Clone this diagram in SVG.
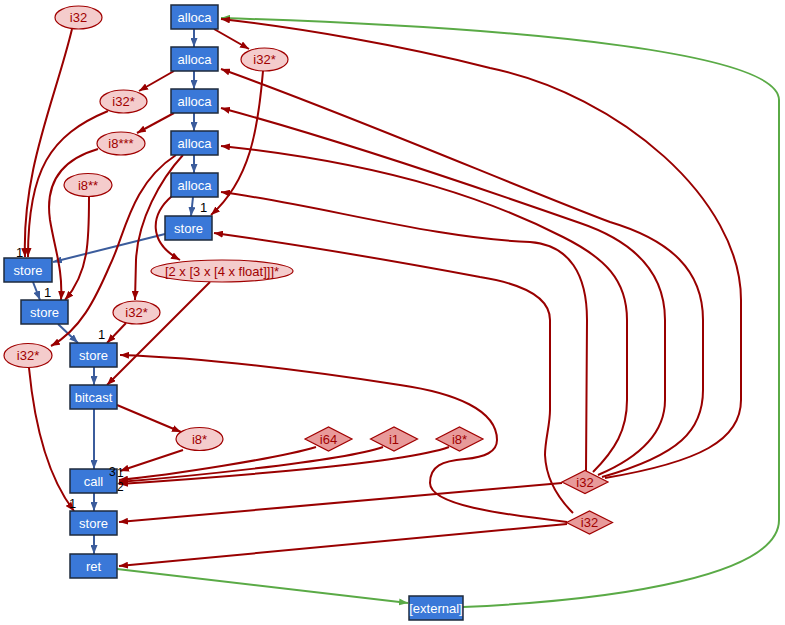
<svg xmlns="http://www.w3.org/2000/svg" width="785" height="625" viewBox="0 0 785 625">
<style>
.op rect{fill:#3a78d8;stroke:#1e2a3c;stroke-width:1.5}
.op text{fill:#ffffff;font-family:"Liberation Sans",Arial,sans-serif;font-size:13px;text-anchor:middle}
.val ellipse{fill:#f4cccc;stroke:#a00000;stroke-width:1.2}
.cst polygon{fill:#e89a9a;stroke:#a00000;stroke-width:1.2}
.val text,.cst text{fill:#a00000;font-family:"Liberation Sans",Arial,sans-serif;font-size:13px;text-anchor:middle}
.e{fill:none;stroke-width:2}
.r{stroke:#990000;marker-end:url(#ar)}
.b{stroke:#3b5c9c;marker-end:url(#ab)}
.g{stroke:#5aaa46;marker-end:url(#ag)}
.lbl{fill:#000;font-family:"Liberation Sans",Arial,sans-serif;font-size:13px}
.sm{font-size:12px}
</style>
<defs>
<marker id="ar" viewBox="0 0 9 7" refX="9" refY="3.5" markerWidth="9" markerHeight="7" markerUnits="userSpaceOnUse" orient="auto"><path d="M0,0 L9,3.5 L0,7 z" fill="#990000"/></marker>
<marker id="ab" viewBox="0 0 9 7" refX="9" refY="3.5" markerWidth="9" markerHeight="7" markerUnits="userSpaceOnUse" orient="auto"><path d="M0,0 L9,3.5 L0,7 z" fill="#3b5c9c"/></marker>
<marker id="ag" viewBox="0 0 9 7" refX="9" refY="3.5" markerWidth="9" markerHeight="7" markerUnits="userSpaceOnUse" orient="auto"><path d="M0,0 L9,3.5 L0,7 z" fill="#5aaa46"/></marker>
</defs>
<rect width="785" height="625" fill="#ffffff"/>
<g id="connectors">
<path class="e g" d="M463,607 C620,600 779,575 779,520 L779,100 C779,55 550,28 221,18"/>
<path class="e g" d="M117,569 L408,603"/>
<path class="e b" d="M194,29 L194,47"/>
<path class="e b" d="M194,71 L194,89"/>
<path class="e b" d="M194,113 L194,131"/>
<path class="e b" d="M194,155 L194,173"/>
<path class="e b" d="M193,197 L191,216"/>
<path class="e b" d="M165,234 L53,262"/>
<path class="e b" d="M33,282 L40,300"/>
<path class="e b" d="M58,324 L78,343"/>
<path class="e b" d="M94,367 L94,385"/>
<path class="e b" d="M94,409 L94,469"/>
<path class="e b" d="M94,493 L94,511"/>
<path class="e b" d="M94,535 L94,554"/>
<path class="e r" d="M214,29 L249,49"/>
<path class="e r" d="M174,71 L139,91"/>
<path class="e r" d="M174,113 L137,133"/>
<path class="e r" d="M72,29 C55,100 22,170 25,257"/>
<path class="e r" d="M108,111 C50,135 28,170 28,257"/>
<path class="e r" d="M98,149 C60,160 45,185 50,220 C55,250 63,270 61,300"/>
<path class="e r" d="M89,197 C89,240 89,272 65,300"/>
<path class="e r" d="M176,155 C130,185 125,235 110,265 C95,300 80,330 51,346"/>
<path class="e r" d="M183,155 C160,180 138,220 136,260 L135,300"/>
<path class="e r" d="M172,196 C150,215 148,242 180,260"/>
<path class="e r" d="M263,71 C258,130 250,180 211,215"/>
<path class="e r" d="M126,323 L107,343"/>
<path class="e r" d="M210,282 L107,385"/>
<path class="e r" d="M29,368 C35,430 50,480 74,511"/>
<path class="e r" d="M117,405 L181,432"/>
<path class="e r" d="M183,450 L120,471"/>
<path class="e r" d="M316,447 C280,458 170,475 119,480"/>
<path class="e r" d="M383,447 C340,462 170,478 119,482"/>
<path class="e r" d="M449,447 C400,465 180,480 119,484"/>
<path class="e r" d="M562,483 L119,522"/>
<path class="e r" d="M567,524 L119,566"/>
<path class="e r" d="M567,522 C500,514 430,505 430,483 C430,466 442,461 465,459 C485,457 497,452 497,440 C497,410 455,393 400,385 C310,371 210,358 120,355"/>
<path class="e r" d="M573,513 C560,500 546,480 545,455 C545,440 550,425 550,410 L550,320 C550,300 530,285 480,277 C400,262 300,245 214,233"/>
<path class="e r" d="M586,471 L587,320 C587,275 570,245 530,242 C430,238 320,205 221,192"/>
<path class="e r" d="M593,472 C615,450 627,430 627,400 L627,320 C627,280 605,258 563,237 C500,205 400,165 221,146"/>
<path class="e r" d="M598,475 C645,455 665,430 665,400 L665,320 C665,270 630,240 580,223 C480,188 340,140 221,108"/>
<path class="e r" d="M602,477 C680,455 703,430 703,390 L703,320 C703,270 670,240 610,222 C520,188 350,115 221,69"/>
<path class="e r" d="M605,478 C700,462 741,440 741,400 L741,300 C741,200 620,95 490,68 C400,45 300,28 221,19"/>
</g>
<g id="alloca1" class="op"><rect x="171" y="5" width="47" height="24"/><text x="194.5" y="21.5">alloca</text></g>
<g id="alloca2" class="op"><rect x="171" y="47" width="47" height="24"/><text x="194.5" y="63.5">alloca</text></g>
<g id="alloca3" class="op"><rect x="171" y="89" width="47" height="24"/><text x="194.5" y="105.5">alloca</text></g>
<g id="alloca4" class="op"><rect x="171" y="131" width="47" height="24"/><text x="194.5" y="147.5">alloca</text></g>
<g id="alloca5" class="op"><rect x="171" y="173" width="47" height="24"/><text x="194.5" y="189.5">alloca</text></g>
<g id="store1" class="op"><rect x="165" y="216" width="47" height="24"/><text x="188.5" y="232.5">store</text></g>
<g id="store2" class="op"><rect x="4" y="258" width="48" height="24"/><text x="28" y="274.5">store</text></g>
<g id="store3" class="op"><rect x="21" y="300" width="47" height="24"/><text x="44.5" y="316.5">store</text></g>
<g id="store4" class="op"><rect x="70" y="343" width="47" height="24"/><text x="93.5" y="359.5">store</text></g>
<g id="bitcast" class="op"><rect x="70" y="385" width="47" height="24"/><text x="93.5" y="401.5">bitcast</text></g>
<g id="call" class="op"><rect x="70" y="469" width="47" height="24"/><text x="93.5" y="485.5">call</text></g>
<g id="store5" class="op"><rect x="70" y="511" width="47" height="24"/><text x="93.5" y="527.5">store</text></g>
<g id="ret" class="op"><rect x="70" y="554" width="47" height="24"/><text x="93.5" y="570.5">ret</text></g>
<g id="external" class="op"><rect x="409" y="596" width="54" height="24"/><text x="436" y="612.5">[external]</text></g>
<g id="v_i32" class="val"><ellipse cx="78.5" cy="17.5" rx="23.5" ry="11.5"/><text x="78.5" y="22">i32</text></g>
<g id="v_p1" class="val"><ellipse cx="264.5" cy="59.5" rx="23.5" ry="11.5"/><text x="264.5" y="64">i32*</text></g>
<g id="v_p2" class="val"><ellipse cx="123.5" cy="101.5" rx="23.5" ry="11.5"/><text x="123.5" y="106">i32*</text></g>
<g id="v_p3" class="val"><ellipse cx="121" cy="143.5" rx="24" ry="11.5"/><text x="121" y="148">i8***</text></g>
<g id="v_p4" class="val"><ellipse cx="88" cy="185" rx="24" ry="11.5"/><text x="88" y="189.5">i8**</text></g>
<g id="v_arr" class="val"><ellipse cx="222" cy="271" rx="71" ry="11"/><text x="222" y="275.5">[2 x [3 x [4 x float]]]*</text></g>
<g id="v_p5" class="val"><ellipse cx="136.5" cy="312.5" rx="23.5" ry="11.5"/><text x="136.5" y="317">i32*</text></g>
<g id="v_p6" class="val"><ellipse cx="28" cy="355.5" rx="24" ry="12"/><text x="28" y="360">i32*</text></g>
<g id="v_p7" class="val"><ellipse cx="199.5" cy="439" rx="23.5" ry="11.5"/><text x="199.5" y="443.5">i8*</text></g>
<g id="c_i64" class="cst"><polygon points="305,439 328.5,427 352,439 328.5,451"/><text x="328.5" y="443.5">i64</text></g>
<g id="c_i1" class="cst"><polygon points="370.5,439 394,427 417.5,439 394,451"/><text x="394" y="443.5">i1</text></g>
<g id="c_i8p" class="cst"><polygon points="436,439 459.5,427 483,439 459.5,451"/><text x="459.5" y="443.5">i8*</text></g>
<g id="c_i32a" class="cst"><polygon points="562,482 585,470.5 608,482 585,493.5"/><text x="585" y="486.5">i32</text></g>
<g id="c_i32b" class="cst"><polygon points="566.5,522.5 589.5,511 612.5,522.5 589.5,534"/><text x="589.5" y="527">i32</text></g>
<g id="edge-labels">
<text class="lbl" x="16" y="257">1</text>
<text class="lbl" x="44" y="297">1</text>
<text class="lbl" x="200" y="212">1</text>
<text class="lbl" x="98" y="339">1</text>
<text class="lbl" x="69" y="508">1</text>
<text class="lbl sm" x="109" y="476">3</text>
<text class="lbl sm" x="117" y="477">1</text>
<text class="lbl sm" x="117" y="491">2</text>
</g>
</svg>
